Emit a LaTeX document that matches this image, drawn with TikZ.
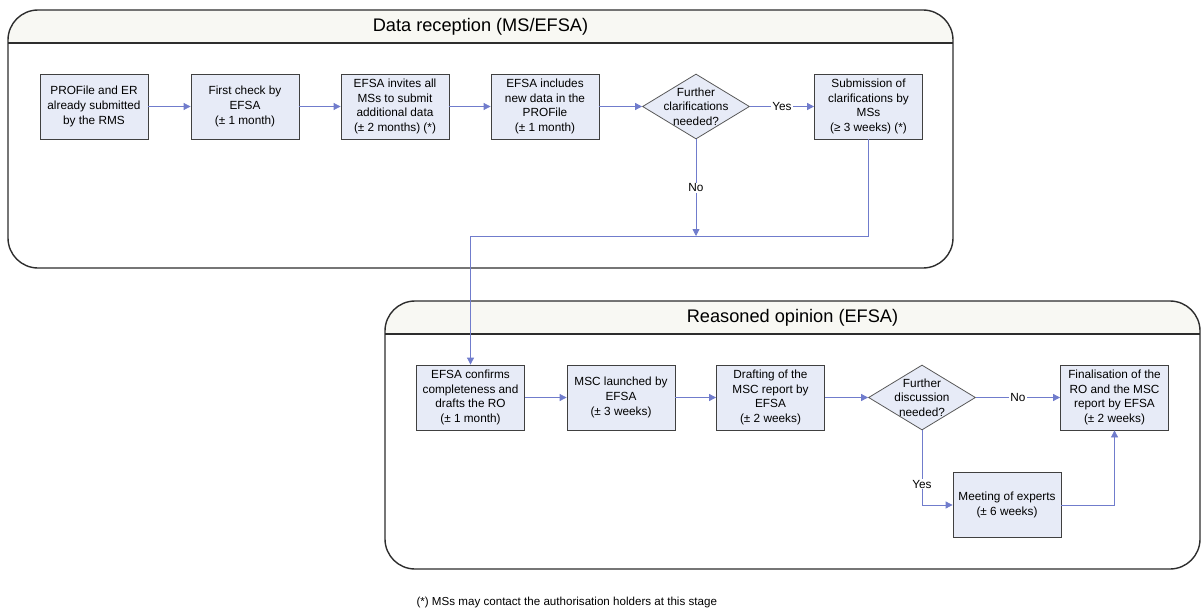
\documentclass[tikz,border=0pt]{standalone}
\usepackage{fontspec}
\setmainfont{Liberation Sans}
\usetikzlibrary{shapes.geometric}
\usetikzlibrary{arrows.meta}
\definecolor{boxfill}{RGB}{231,235,247}
\definecolor{flowline}{RGB}{112,124,204}
\definecolor{headfill}{RGB}{248,248,243}
\definecolor{frameline}{RGB}{45,45,45}

\begin{document}
\begin{tikzpicture}[x=1pt, y=-1pt,
  stage/.style={draw=frameline, line width=1.4pt, rounded corners=30pt},
  task/.style={rectangle, draw=black!75, line width=0.8pt, fill=boxfill,
    minimum width=108pt, minimum height=65pt, align=center, inner sep=1pt,
    font=\fontsize{11.8}{14.6}\selectfont},
  query/.style={diamond, draw=black!65, line width=0.8pt, fill=boxfill,
    minimum width=107pt, minimum height=65pt, inner sep=0pt},
  querytext/.style={align=center, font=\fontsize{11.8}{14.6}\selectfont},
  flow/.style={draw=flowline, line width=0.8pt, -{Triangle[length=7pt,width=7pt]}},
  tag/.style={fill=white, inner sep=1pt, font=\fontsize{11.8}{13}\selectfont}]
  \useasboundingbox (0,0) rectangle (1202,610);

  \begin{scope}
    \clip (0,0) rectangle (1202,43);
    \fill[headfill, rounded corners=30pt] (8,10) rectangle (953,268);
  \end{scope}
  \draw[stage] (8,10) rectangle (953,268);
  \draw[frameline, line width=1.4pt] (8,43) -- (953,43);
  \node[font=\fontsize{18.2}{22}\selectfont] (recv) at (480.5,26.5) {Data reception (MS/EFSA)};

  \begin{scope}
    \clip (0,301) rectangle (1202,334);
    \fill[headfill, rounded corners=30pt] (385,301) rectangle (1200,569);
  \end{scope}
  \draw[stage] (385,301) rectangle (1200,569);
  \draw[frameline, line width=1.4pt] (385,334) -- (1200,334);
  \node[font=\fontsize{18.2}{22}\selectfont] (opin) at (792.5,317.5) {Reasoned opinion (EFSA)};

  \node[task] (b1) at (94,106.5) {PROFile and ER\\already submitted\\by the RMS};
  \node[task] (b2) at (245,106.5) {First check by\\EFSA\\(± 1 month)};
  \node[task] (b3) at (395,106.5) {EFSA invites all\\MSs to submit\\additional data\\(± 2 months) (*)};
  \node[task] (b4) at (545,106.5) {EFSA includes\\new data in the\\PROFile\\(± 1 month)};
  \node[query] (d1) at (696,106.5) {};
  \node[querytext] (d1txt) at (d1) {Further\\clarifications\\needed?};
  \node[task] (sub) at (868.5,106.5) {Submission of\\clarifications by\\MSs\\(≥ 3 weeks) (*)};
  \coordinate (merge) at (696,236);

  \node[task] (c1) at (470.5,397.5) {EFSA confirms\\completeness and\\drafts the RO\\(± 1 month)};
  \node[task] (c2) at (621,397.5) {MSC launched by\\EFSA\\(± 3 weeks)};
  \node[task] (c3) at (770.5,397.5) {Drafting of the\\MSC report by\\EFSA\\(± 2 weeks)};
  \node[query] (d2) at (922,397.5) {};
  \node[querytext] (d2txt) at (d2) {Further\\discussion\\needed?};
  \node[task] (c4) at (1114.5,397.5) {Finalisation of the\\RO and the MSC\\report by EFSA\\(± 2 weeks)};
  \node[task] (meet) at (1007,505) {Meeting of experts\\(± 6 weeks)};

  \draw[flow] (b1) -- (b2);
  \draw[flow] (b2) -- (b3);
  \draw[flow] (b3) -- (b4);
  \draw[flow] (b4) -- (d1);
  \draw[flow] (d1) -- node[tag] {Yes} (sub);
  \draw[flow] (d1) -- node[tag] {No} (merge);
  \draw[flow] (sub.south) |- (c1.north |- merge) -- (c1.north);

  \draw[flow] (c1) -- (c2);
  \draw[flow] (c2) -- (c3);
  \draw[flow] (c3) -- (d2);
  \draw[flow] (d2) -- node[tag] {No} (c4);
  \draw[flow] (d2.south) |- node[tag, pos=0.36] {Yes} (meet.west);
  \draw[flow] (meet.east) -| (c4.south);

  \node[anchor=west, font=\fontsize{11.6}{13}\selectfont] (note) at (413,602)
    {(*) MSs may contact the authorisation holders at this stage};
\end{tikzpicture}
\end{document}
